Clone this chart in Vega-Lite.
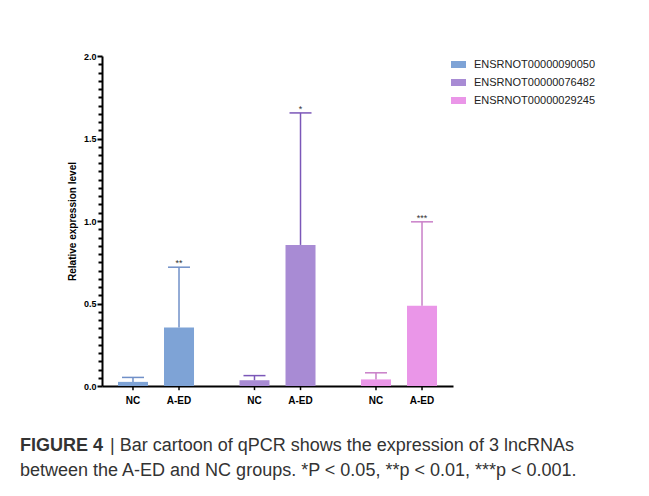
{
  "$schema": "https://vega.github.io/schema/vega-lite/v6.json",
  "width": 351,
  "height": 330,
  "autosize": {"type": "none"},
  "padding": {"left": 102, "top": 56, "right": 196, "bottom": 110},
  "background": "white",
  "config": {
    "view": {"stroke": null},
    "axisY": {
      "grid": false,
      "domainColor": "black",
      "domainWidth": 2,
      "tickColor": "black",
      "tickWidth": 2,
      "labelFont": "Liberation Sans",
      "labelFontWeight": "bold",
      "labelFontSize": 9,
      "labelColor": "black",
      "labelPadding": 1,
      "labelOverlap": false,
      "titleFont": "Liberation Sans",
      "titleFontWeight": "bold",
      "titleFontSize": 10,
      "titleColor": "black",
      "titlePadding": 6
    }
  },
  "title": {
    "text": "FIGURE 4",
    "subtitle": ["\u200b\u00a0\u00a0\u00a0\u00a0\u00a0\u00a0\u00a0\u00a0\u00a0\u00a0\u00a0\u00a0\u00a0\u00a0\u00a0\u00a0\u00a0\u00a0| Bar cartoon of qPCR shows the expression of 3 lncRNAs", "between the A-ED and NC groups. *P < 0.05, **p < 0.01, ***p < 0.001."],
    "orient": "bottom",
    "anchor": "start",
    "frame": "group",
    "dx": -82,
    "offset": 31,
    "font": "Liberation Sans",
    "fontSize": 18,
    "fontWeight": "bold",
    "color": "#333333",
    "subtitleFont": "Liberation Sans",
    "subtitleFontSize": 18,
    "subtitleFontWeight": "normal",
    "subtitleColor": "#333333",
    "subtitlePadding": -18,
    "subtitleLineHeight": 25
  },
  "data": {
    "values": [
      {"gene": "ENSRNOT00000090050", "group": "NC", "mean": 0.025, "upper": 0.052, "sig": ""},
      {"gene": "ENSRNOT00000090050", "group": "A-ED", "mean": 0.355, "upper": 0.72, "sig": "**"},
      {"gene": "ENSRNOT00000076482", "group": "NC", "mean": 0.035, "upper": 0.063, "sig": ""},
      {"gene": "ENSRNOT00000076482", "group": "A-ED", "mean": 0.855, "upper": 1.655, "sig": "*"},
      {"gene": "ENSRNOT00000029245", "group": "NC", "mean": 0.04, "upper": 0.08, "sig": ""},
      {"gene": "ENSRNOT00000029245", "group": "A-ED", "mean": 0.487, "upper": 0.995, "sig": "***"}
    ]
  },
  "encoding": {
    "x": {
      "field": "gene",
      "type": "nominal",
      "sort": ["ENSRNOT00000090050", "ENSRNOT00000076482", "ENSRNOT00000029245"],
      "scale": {"paddingInner": 0.2, "paddingOuter": 0.0444},
      "axis": {"labels": false, "ticks": false, "title": null, "domainColor": "black", "domainWidth": 2}
    },
    "xOffset": {
      "field": "group",
      "type": "nominal",
      "sort": ["NC", "A-ED"],
      "scale": {"paddingInner": 0.348, "paddingOuter": 0.23}
    }
  },
  "layer": [
    {
      "mark": {"type": "bar"},
      "encoding": {
        "y": {
          "field": "mean",
          "type": "quantitative",
          "scale": {"domain": [0, 2], "nice": false},
          "axis": {
            "title": "Relative expression level",
            "values": [0, 0.05, 0.1, 0.15, 0.2, 0.25, 0.3, 0.35, 0.4, 0.45, 0.5, 0.55, 0.6, 0.65, 0.7, 0.75, 0.8, 0.85, 0.9, 0.95, 1.0, 1.05, 1.1, 1.15, 1.2, 1.25, 1.3, 1.35, 1.4, 1.45, 1.5, 1.55, 1.6, 1.65, 1.7, 1.75, 1.8, 1.85, 1.9, 1.95, 2.0],
            "labelExpr": "abs(datum.value*2 - round(datum.value*2)) < 0.001 ? format(datum.value, '.1f') : ''",
            "tickSize": {"condition": {"test": "abs(datum.value*2 - round(datum.value*2)) < 0.001", "value": 5}, "value": 4}
          }
        },
        "color": {
          "field": "gene",
          "type": "nominal",
          "sort": ["ENSRNOT00000090050", "ENSRNOT00000076482", "ENSRNOT00000029245"],
          "scale": {"range": ["#7ea3d6", "#a88bd4", "#ea96e8"]},
          "legend": {
            "title": null,
            "orient": "none",
            "legendX": 349,
            "legendY": 1,
            "padding": 0,
            "symbolType": "M-1,-0.47H1V0.47H-1Z",
            "symbolSize": 225,
            "symbolStrokeWidth": 0,
            "labelFont": "Liberation Sans",
            "labelFontSize": 11,
            "labelColor": "#222222",
            "labelOffset": 8,
            "rowPadding": 5
          }
        }
      }
    },
    {
      "mark": {"type": "rule", "strokeWidth": 1.5},
      "encoding": {
        "y": {
          "field": "mean",
          "type": "quantitative",
          "axis": {
            "title": "Relative expression level",
            "values": [0, 0.05, 0.1, 0.15, 0.2, 0.25, 0.3, 0.35, 0.4, 0.45, 0.5, 0.55, 0.6, 0.65, 0.7, 0.75, 0.8, 0.85, 0.9, 0.95, 1.0, 1.05, 1.1, 1.15, 1.2, 1.25, 1.3, 1.35, 1.4, 1.45, 1.5, 1.55, 1.6, 1.65, 1.7, 1.75, 1.8, 1.85, 1.9, 1.95, 2.0],
            "labelExpr": "abs(datum.value*2 - round(datum.value*2)) < 0.001 ? format(datum.value, '.1f') : ''",
            "tickSize": {"condition": {"test": "abs(datum.value*2 - round(datum.value*2)) < 0.001", "value": 5}, "value": 4}
          }
        },
        "y2": {"field": "upper"},
        "stroke": {
          "field": "gene",
          "type": "nominal",
          "sort": ["ENSRNOT00000090050", "ENSRNOT00000076482", "ENSRNOT00000029245"],
          "scale": {"range": ["#7090c8", "#7b57b8", "#c97fc8"]},
          "legend": null
        }
      }
    },
    {
      "mark": {"type": "tick", "orient": "horizontal", "size": 22, "thickness": 1.5, "opacity": 1},
      "encoding": {
        "y": {
          "field": "upper",
          "type": "quantitative",
          "axis": {
            "title": "Relative expression level",
            "values": [0, 0.05, 0.1, 0.15, 0.2, 0.25, 0.3, 0.35, 0.4, 0.45, 0.5, 0.55, 0.6, 0.65, 0.7, 0.75, 0.8, 0.85, 0.9, 0.95, 1.0, 1.05, 1.1, 1.15, 1.2, 1.25, 1.3, 1.35, 1.4, 1.45, 1.5, 1.55, 1.6, 1.65, 1.7, 1.75, 1.8, 1.85, 1.9, 1.95, 2.0],
            "labelExpr": "abs(datum.value*2 - round(datum.value*2)) < 0.001 ? format(datum.value, '.1f') : ''",
            "tickSize": {"condition": {"test": "abs(datum.value*2 - round(datum.value*2)) < 0.001", "value": 5}, "value": 4}
          }
        },
        "fill": {
          "field": "gene",
          "type": "nominal",
          "sort": ["ENSRNOT00000090050", "ENSRNOT00000076482", "ENSRNOT00000029245"],
          "scale": {"range": ["#7090c8", "#7b57b8", "#c97fc8"]},
          "legend": null
        }
      }
    },
    {
      "mark": {"type": "text", "font": "Liberation Sans", "fontSize": 9, "color": "#333333", "baseline": "bottom", "dy": 1},
      "encoding": {
        "y": {
          "field": "upper",
          "type": "quantitative",
          "axis": {
            "title": "Relative expression level",
            "values": [0, 0.05, 0.1, 0.15, 0.2, 0.25, 0.3, 0.35, 0.4, 0.45, 0.5, 0.55, 0.6, 0.65, 0.7, 0.75, 0.8, 0.85, 0.9, 0.95, 1.0, 1.05, 1.1, 1.15, 1.2, 1.25, 1.3, 1.35, 1.4, 1.45, 1.5, 1.55, 1.6, 1.65, 1.7, 1.75, 1.8, 1.85, 1.9, 1.95, 2.0],
            "labelExpr": "abs(datum.value*2 - round(datum.value*2)) < 0.001 ? format(datum.value, '.1f') : ''",
            "tickSize": {"condition": {"test": "abs(datum.value*2 - round(datum.value*2)) < 0.001", "value": 5}, "value": 4}
          }
        },
        "text": {"field": "sig"}
      }
    },
    {
      "mark": {"type": "text", "font": "Liberation Sans", "fontSize": 10, "fontWeight": "bold", "color": "black", "baseline": "middle", "dy": 15},
      "encoding": {
        "y": {
          "datum": 0,
          "type": "quantitative",
          "axis": {
            "title": "Relative expression level",
            "values": [0, 0.05, 0.1, 0.15, 0.2, 0.25, 0.3, 0.35, 0.4, 0.45, 0.5, 0.55, 0.6, 0.65, 0.7, 0.75, 0.8, 0.85, 0.9, 0.95, 1.0, 1.05, 1.1, 1.15, 1.2, 1.25, 1.3, 1.35, 1.4, 1.45, 1.5, 1.55, 1.6, 1.65, 1.7, 1.75, 1.8, 1.85, 1.9, 1.95, 2.0],
            "labelExpr": "abs(datum.value*2 - round(datum.value*2)) < 0.001 ? format(datum.value, '.1f') : ''",
            "tickSize": {"condition": {"test": "abs(datum.value*2 - round(datum.value*2)) < 0.001", "value": 5}, "value": 4}
          }
        },
        "text": {"field": "group"}
      }
    },
    {
      "mark": {"type": "rule", "strokeWidth": 1.5, "color": "black"},
      "encoding": {
        "y": {
          "datum": 0,
          "type": "quantitative",
          "axis": {
            "title": "Relative expression level",
            "values": [0, 0.05, 0.1, 0.15, 0.2, 0.25, 0.3, 0.35, 0.4, 0.45, 0.5, 0.55, 0.6, 0.65, 0.7, 0.75, 0.8, 0.85, 0.9, 0.95, 1.0, 1.05, 1.1, 1.15, 1.2, 1.25, 1.3, 1.35, 1.4, 1.45, 1.5, 1.55, 1.6, 1.65, 1.7, 1.75, 1.8, 1.85, 1.9, 1.95, 2.0],
            "labelExpr": "abs(datum.value*2 - round(datum.value*2)) < 0.001 ? format(datum.value, '.1f') : ''",
            "tickSize": {"condition": {"test": "abs(datum.value*2 - round(datum.value*2)) < 0.001", "value": 5}, "value": 4}
          }
        },
        "y2": {"datum": -0.025}
      }
    }
  ]
}
